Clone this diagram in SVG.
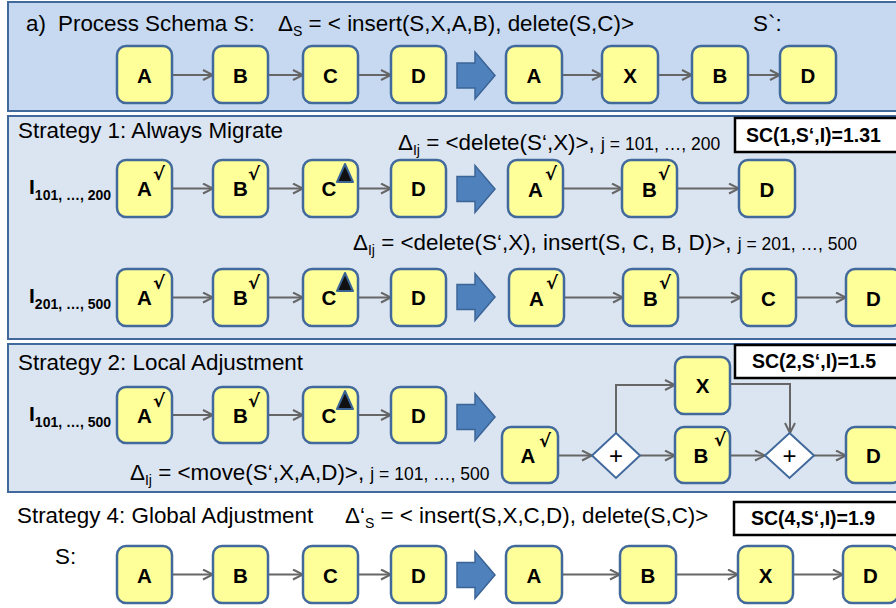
<svg xmlns="http://www.w3.org/2000/svg" width="896" height="608" viewBox="0 0 896 608">
<defs>
<marker id="ah" markerUnits="userSpaceOnUse" markerWidth="12" markerHeight="12" viewBox="0 0 12 12" refX="11" refY="6" orient="auto">
<path d="M1,1 L11,6 L1,11" fill="none" stroke="#666666" stroke-width="2"/>
</marker>
<g id="bigarrow"><polygon points="0,-12.5 18,-12.5 18,-23.5 38,0 18,23.5 18,12.5 0,12.5" fill="#4f81bd" stroke="#3b6496" stroke-width="1.5"/></g>
</defs>
<style>
.pa{fill:#c6d9f1;stroke:#41699c;stroke-width:2}
.ps{fill:#dbe5f1;stroke:#41699c;stroke-width:2}
.n{fill:#ffff99;stroke:#41699c;stroke-width:2.5}
.dm{fill:#ffffff;stroke:#41699c;stroke-width:2}
.lb{font-family:"Liberation Sans",Arial,sans-serif;font-weight:bold;font-size:20.5px;text-anchor:middle;fill:#000}
.pl{font-family:"Liberation Sans",Arial,sans-serif;font-size:24px;text-anchor:middle;fill:#000}
.ck{font-family:"DejaVu Sans","Liberation Sans",sans-serif;font-weight:bold;font-size:18px;fill:#000}
.t{font-family:"Liberation Sans",Arial,sans-serif;font-size:22.4px;fill:#000}
.sm{font-size:17.5px}
.sub{font-size:14px}
.inst{font-family:"Liberation Sans",Arial,sans-serif;font-weight:bold;font-size:21px;fill:#000}
.isub{font-size:14px}
.scb{fill:#ffffff;stroke:#000;stroke-width:2.5}
.sct{font-family:"Liberation Sans",Arial,sans-serif;font-weight:bold;font-size:19.5px;fill:#000}
.c{stroke:#666666;stroke-width:2;fill:none;marker-end:url(#ah)}
.tri{fill:#111;stroke:#3b6496;stroke-width:2;stroke-linejoin:round}
</style>
<rect width="896" height="608" fill="#ffffff"/>
<g id="panels">
<rect class="pa" x="8" y="2" width="900" height="109"/>
<rect class="ps" x="8" y="116" width="900" height="223"/>
<rect class="ps" x="8" y="344" width="900" height="148"/>
</g>
<g id="texts">
<text class="t" y="31"><tspan x="26">a)</tspan><tspan x="58">Process Schema S:</tspan></text>
<text class="t" x="278" y="31">Δ<tspan class="sub" dy="5">S</tspan><tspan dy="-5"> = &lt; insert(S,X,A,B), delete(S,C)&gt;</tspan></text>
<text class="t" x="753" y="31">S`:</text>
<text class="t" x="18" y="138">Strategy 1: Always Migrate</text>
<text class="t" x="398" y="150">Δ<tspan class="sub" dy="5">Ij</tspan><tspan dy="-5"> = &lt;delete(S‘,X)&gt;, </tspan><tspan class="sm">j = 101, …, 200</tspan></text>
<text class="t" x="353" y="250">Δ<tspan class="sub" dy="5">Ij</tspan><tspan dy="-5"> = &lt;delete(S‘,X), insert(S, C, B, D)&gt;, </tspan><tspan class="sm">j = 201, …, 500</tspan></text>
<text class="t" x="18" y="370">Strategy 2: Local Adjustment</text>
<text class="t" x="130" y="480">Δ<tspan class="sub" dy="5">Ij</tspan><tspan dy="-5"> = &lt;move(S‘,X,A,D)&gt;, </tspan><tspan class="sm">j = 101, …, 500</tspan></text>
<text class="t" x="17" y="523">Strategy 4: Global Adjustment</text>
<text class="t" x="345" y="523">Δ‘<tspan class="sub" dy="5">S</tspan><tspan dy="-5"> = &lt; insert(S,X,C,D), delete(S,C)&gt;</tspan></text>
<text class="t" x="55" y="564">S:</text>
<text class="inst" x="29" y="194">I<tspan class="isub" dy="6">101, …, 200</tspan></text>
<text class="inst" x="29" y="303">I<tspan class="isub" dy="6">201, …, 500</tspan></text>
<text class="inst" x="29" y="421">I<tspan class="isub" dy="6">101, …, 500</tspan></text>
</g>
<g id="sc-boxes">
<rect class="scb" x="735" y="118" width="170" height="34"/>
<text class="sct" x="746" y="142">SC(1,S‘,I)=1.31</text>
<rect class="scb" x="735" y="345" width="170" height="33"/>
<text class="sct" x="752" y="368">SC(2,S‘,I)=1.5</text>
<rect class="scb" x="734" y="502" width="170" height="33"/>
<text class="sct" x="751" y="525">SC(4,S‘,I)=1.9</text>
</g>
<g id="big-arrows">
<use href="#bigarrow" x="457" y="75.5"/>
<use href="#bigarrow" x="457" y="189"/>
<use href="#bigarrow" x="457" y="297"/>
<use href="#bigarrow" x="457" y="417"/>
<use href="#bigarrow" x="457" y="575"/>
</g>
<g id="connectors">
<line class="c" x1="172" y1="75" x2="213" y2="75"/>
<line class="c" x1="268" y1="75" x2="303" y2="75"/>
<line class="c" x1="358" y1="75" x2="391" y2="75"/>
<line class="c" x1="562" y1="75" x2="602" y2="75"/>
<line class="c" x1="658" y1="75" x2="692" y2="75"/>
<line class="c" x1="748" y1="75" x2="780" y2="75"/>
<line class="c" x1="172" y1="188.5" x2="213" y2="188.5"/>
<line class="c" x1="268" y1="188.5" x2="303" y2="188.5"/>
<line class="c" x1="358" y1="188.5" x2="391" y2="188.5"/>
<line class="c" x1="563" y1="188.5" x2="622" y2="188.5"/>
<line class="c" x1="677" y1="188.5" x2="739" y2="188.5"/>
<line class="c" x1="172" y1="297.5" x2="213" y2="297.5"/>
<line class="c" x1="268" y1="297.5" x2="303" y2="297.5"/>
<line class="c" x1="358" y1="297.5" x2="391" y2="297.5"/>
<line class="c" x1="564" y1="297.5" x2="623" y2="297.5"/>
<line class="c" x1="678" y1="297.5" x2="741" y2="297.5"/>
<line class="c" x1="796" y1="297.5" x2="846" y2="297.5"/>
<line class="c" x1="172" y1="415" x2="213" y2="415"/>
<line class="c" x1="268" y1="415" x2="303" y2="415"/>
<line class="c" x1="358" y1="415" x2="391" y2="415"/>
<line class="c" x1="558" y1="455.5" x2="592" y2="455.5"/>
<line class="c" x1="640" y1="455.5" x2="675" y2="455.5"/>
<line class="c" x1="730" y1="455.5" x2="765" y2="455.5"/>
<line class="c" x1="814" y1="455.5" x2="846" y2="455.5"/>
<polyline class="c" points="616,433 616,385 675,385"/>
<polyline class="c" points="730,384 790,384 790,433"/>
<line class="c" x1="172" y1="574.5" x2="213" y2="574.5"/>
<line class="c" x1="268" y1="574.5" x2="303" y2="574.5"/>
<line class="c" x1="358" y1="574.5" x2="391" y2="574.5"/>
<line class="c" x1="562" y1="574.5" x2="620" y2="574.5"/>
<line class="c" x1="676" y1="574.5" x2="738" y2="574.5"/>
<line class="c" x1="793" y1="574.5" x2="843" y2="574.5"/>
</g>
<!-- Row a -->
<g id="a-A"><rect class="n" x="117" y="46" width="55" height="57" rx="9"/><text class="lb" x="144.5" y="83">A</text></g>
<g id="a-B"><rect class="n" x="213" y="46" width="55" height="57" rx="9"/><text class="lb" x="240.5" y="83">B</text></g>
<g id="a-C"><rect class="n" x="303" y="46" width="55" height="57" rx="9"/><text class="lb" x="330.5" y="83">C</text></g>
<g id="a-D"><rect class="n" x="391" y="46" width="55" height="57" rx="9"/><text class="lb" x="418.5" y="83">D</text></g>
<g id="a2-A"><rect class="n" x="506" y="46" width="56" height="57" rx="9"/><text class="lb" x="534" y="83">A</text></g>
<g id="a2-X"><rect class="n" x="602" y="46" width="56" height="57" rx="9"/><text class="lb" x="630" y="83">X</text></g>
<g id="a2-B"><rect class="n" x="692" y="46" width="56" height="57" rx="9"/><text class="lb" x="720" y="83">B</text></g>
<g id="a2-D"><rect class="n" x="780" y="46" width="56" height="57" rx="9"/><text class="lb" x="808" y="83">D</text></g>
<!-- Strategy 1 row 1 -->
<g id="s1a-A"><rect class="n" x="117" y="160" width="55" height="57" rx="9"/><text class="lb" x="144.5" y="196">A</text><text class="ck" x="153" y="180">√</text></g>
<g id="s1a-B"><rect class="n" x="213" y="160" width="55" height="57" rx="9"/><text class="lb" x="240.5" y="196">B</text><text class="ck" x="248" y="180">√</text></g>
<g id="s1a-C"><rect class="n" x="303" y="160" width="55" height="57" rx="9"/><text class="lb" x="329" y="196">C</text><polygon class="tri" points="345,164 353,182 337,182"/></g>
<g id="s1a-D"><rect class="n" x="391" y="160" width="55" height="57" rx="9"/><text class="lb" x="418.5" y="196">D</text></g>
<g id="s1b-A"><rect class="n" x="508" y="160" width="55" height="57" rx="9"/><text class="lb" x="535.5" y="197">A</text><text class="ck" x="545" y="180">√</text></g>
<g id="s1b-B"><rect class="n" x="622" y="160" width="55" height="57" rx="9"/><text class="lb" x="649.5" y="197">B</text><text class="ck" x="658" y="180">√</text></g>
<g id="s1b-D"><rect class="n" x="739" y="160" width="56" height="57" rx="9"/><text class="lb" x="767" y="197">D</text></g>
<!-- Strategy 1 row 2 -->
<g id="s1c-A"><rect class="n" x="117" y="269" width="55" height="57" rx="9"/><text class="lb" x="144.5" y="305">A</text><text class="ck" x="153" y="289">√</text></g>
<g id="s1c-B"><rect class="n" x="213" y="269" width="55" height="57" rx="9"/><text class="lb" x="240.5" y="305">B</text><text class="ck" x="248" y="289">√</text></g>
<g id="s1c-C"><rect class="n" x="303" y="269" width="55" height="57" rx="9"/><text class="lb" x="329" y="305">C</text><polygon class="tri" points="345,273 353,291 337,291"/></g>
<g id="s1c-D"><rect class="n" x="391" y="269" width="55" height="57" rx="9"/><text class="lb" x="418.5" y="305">D</text></g>
<g id="s1d-A"><rect class="n" x="509" y="269" width="55" height="57" rx="9"/><text class="lb" x="536.5" y="306">A</text><text class="ck" x="546" y="289">√</text></g>
<g id="s1d-B"><rect class="n" x="623" y="269" width="55" height="57" rx="9"/><text class="lb" x="650.5" y="306">B</text><text class="ck" x="659" y="289">√</text></g>
<g id="s1d-C"><rect class="n" x="741" y="269" width="55" height="57" rx="9"/><text class="lb" x="768.5" y="306">C</text></g>
<g id="s1d-D"><rect class="n" x="846" y="269" width="55" height="57" rx="9"/><text class="lb" x="873.5" y="306">D</text></g>
<!-- Strategy 2 -->
<g id="s2a-A"><rect class="n" x="117" y="387" width="55" height="56" rx="9"/><text class="lb" x="144.5" y="423">A</text><text class="ck" x="153" y="407">√</text></g>
<g id="s2a-B"><rect class="n" x="213" y="387" width="55" height="56" rx="9"/><text class="lb" x="240.5" y="423">B</text><text class="ck" x="248" y="407">√</text></g>
<g id="s2a-C"><rect class="n" x="303" y="387" width="55" height="56" rx="9"/><text class="lb" x="329" y="423">C</text><polygon class="tri" points="345,391 353,409 337,409"/></g>
<g id="s2a-D"><rect class="n" x="391" y="387" width="55" height="56" rx="9"/><text class="lb" x="418.5" y="423">D</text></g>
<g id="s2b-A"><rect class="n" x="502" y="427" width="56" height="56" rx="9"/><text class="lb" x="528" y="463">A</text><text class="ck" x="539" y="447">√</text></g>
<g id="s2b-G1"><polygon class="dm" points="616,433 640,455.5 616,478 592,455.5"/><text class="pl" x="616" y="464">+</text></g>
<g id="s2b-X"><rect class="n" x="675" y="357" width="55" height="57" rx="9"/><text class="lb" x="702.5" y="393">X</text></g>
<g id="s2b-B"><rect class="n" x="675" y="427" width="55" height="56" rx="9"/><text class="lb" x="701" y="463">B</text><text class="ck" x="714" y="446">√</text></g>
<g id="s2b-G2"><polygon class="dm" points="789.5,433 814,455.5 789.5,478 765,455.5"/><text class="pl" x="789.5" y="464">+</text></g>
<g id="s2b-D"><rect class="n" x="846" y="427" width="55" height="56" rx="9"/><text class="lb" x="873.5" y="463">D</text></g>
<!-- Strategy 4 -->
<g id="s4a-A"><rect class="n" x="117" y="546" width="55" height="57" rx="9"/><text class="lb" x="144.5" y="583">A</text></g>
<g id="s4a-B"><rect class="n" x="213" y="546" width="55" height="57" rx="9"/><text class="lb" x="240.5" y="583">B</text></g>
<g id="s4a-C"><rect class="n" x="303" y="546" width="55" height="57" rx="9"/><text class="lb" x="330.5" y="583">C</text></g>
<g id="s4a-D"><rect class="n" x="391" y="546" width="55" height="57" rx="9"/><text class="lb" x="418.5" y="583">D</text></g>
<g id="s4b-A"><rect class="n" x="506" y="546" width="56" height="57" rx="9"/><text class="lb" x="534" y="583">A</text></g>
<g id="s4b-B"><rect class="n" x="620" y="546" width="56" height="57" rx="9"/><text class="lb" x="648" y="583">B</text></g>
<g id="s4b-X"><rect class="n" x="738" y="546" width="55" height="57" rx="9"/><text class="lb" x="765.5" y="583">X</text></g>
<g id="s4b-D"><rect class="n" x="843" y="546" width="55" height="57" rx="9"/><text class="lb" x="870.5" y="583">D</text></g>
</svg>
